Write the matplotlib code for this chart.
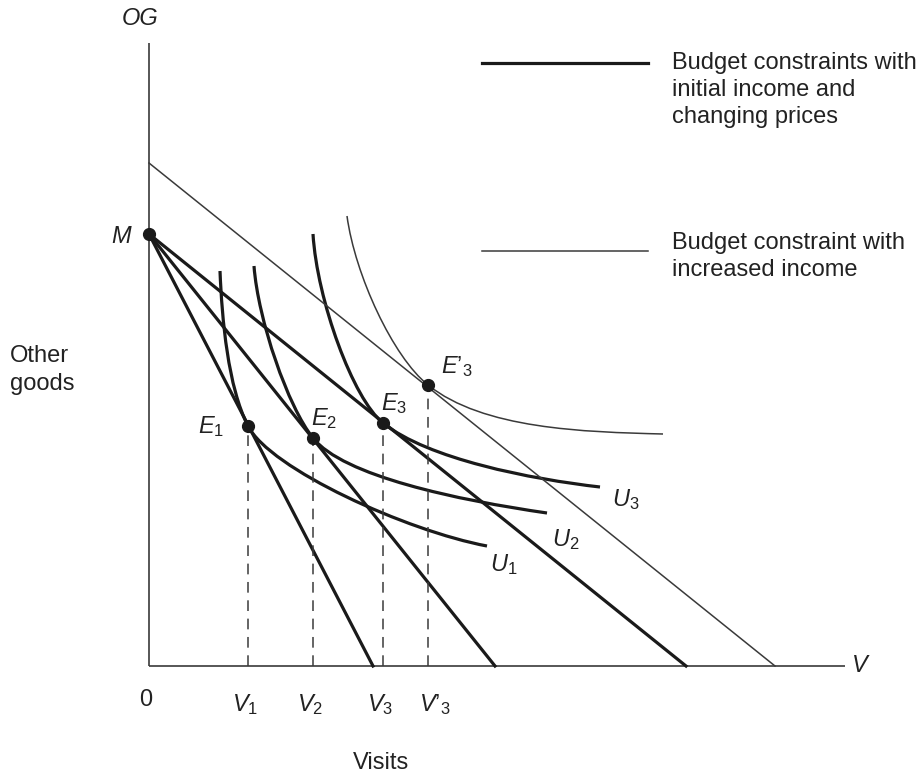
import matplotlib
matplotlib.use("Agg")
import matplotlib.pyplot as plt
from matplotlib.path import Path
from matplotlib.patches import PathPatch

plt.rcParams['font.family'] = ['Liberation Sans', 'DejaVu Sans']
plt.rcParams['mathtext.fontset'] = 'custom'
plt.rcParams['mathtext.it'] = 'Liberation Sans:italic'
plt.rcParams['mathtext.rm'] = 'Liberation Sans'

# ---- data (diagram units: origin at 0, Visits on x, Other goods on y) ----
income_M = 432                      # initial income intercept (M)
budget_x_intercepts = [224, 346, 537]   # thick budget lines, changing prices
raised_income = 503                 # intercept of budget with increased income
raised_x_intercept = 626

eq_labels = [r"$E_\mathrm{1}$", r"$E_\mathrm{2}$", r"$E_\mathrm{3}$", r"$E’_\mathrm{3}$"]
eq_x = [99, 164, 234, 279]
eq_y = [240, 228, 243, 281]

v_labels = [r"$V_\mathrm{1}$", r"$V_\mathrm{2}$", r"$V_\mathrm{3}$", r"$V’_\mathrm{3}$"]

# indifference curves as cubic Bezier nodes: start, c1, c2, tangency, c3, c4, end
U1_x = [71, 73, 79, 99, 121, 258, 338]
U1_y = [395, 346, 279, 240, 197, 135, 120]
U2_x = [105, 109, 139, 164, 194, 308, 398]
U2_y = [400, 346, 259, 228, 190, 166, 153]
U3_x = [164, 168, 204, 234, 279, 381, 451]
U3_y = [432, 366, 267, 243, 207, 187, 179]
U3p_x = [198, 206, 244, 279, 334, 434, 514]
U3p_y = [450, 391, 309, 281, 237, 234, 232]

fig = plt.figure(figsize=(9.24, 7.78), dpi=100)
ax = fig.add_axes([0, 0, 1, 1])
ax.set_xlim(-149, 775)
ax.set_ylim(-112, 666)
ax.axis('off')

ink = '#1a1a1a'
thin = '#3a3a3a'

# axes
ax.plot([0, 0], [0, 623], color=thin, lw=1.2, solid_capstyle='butt')
ax.plot([0, 696], [0, 0], color=thin, lw=1.2, solid_capstyle='butt')

# budget lines
for xi in budget_x_intercepts:
    ax.plot([0, xi], [income_M, 0], color=ink, lw=2.3)
ax.plot([0, raised_x_intercept], [raised_income, 0], color=thin, lw=1.1)

# indifference curves
codes = [Path.MOVETO] + [Path.CURVE4] * 6
for xs, ys, lw, col in [(U1_x, U1_y, 2.3, ink), (U2_x, U2_y, 2.3, ink),
                        (U3_x, U3_y, 2.3, ink), (U3p_x, U3p_y, 1.1, thin)]:
    p = Path(list(zip(xs, ys)), codes)
    ax.add_patch(PathPatch(p, facecolor='none', edgecolor=col, lw=lw))

# dashed drop lines and equilibrium points
for x, y in zip(eq_x, eq_y):
    ax.plot([x, x], [0, y], color=thin, lw=1.1, ls=(0, (7, 5)))
ax.plot(eq_x, eq_y, 'o', color=ink, ms=8.5, zorder=5)
ax.plot([0], [income_M], 'o', color=ink, ms=8.5, zorder=5, clip_on=False)

fs = 17
tc = '#222222'
# equilibrium labels
eq_off = [(-37, -1), (11, 19), (11, 19), (29, 18)]
for t, x, y, (dx, dy) in zip(eq_labels, eq_x, eq_y, eq_off):
    ax.text(x + dx, y + dy, t, fontsize=fs, color=tc, ha='center', va='center')

# V labels under axis
for t, x in zip(v_labels, eq_x):
    ax.text(x + (7 if "’" in t else -3), -39, t, fontsize=fs, color=tc, ha='center', va='center')
ax.text(-3, -34, "0", fontsize=fs, color=tc, ha='center', va='center')

# curve labels
ax.text(355, 101, r"$U_\mathrm{1}$", fontsize=fs, color=tc, ha='center', va='center')
ax.text(417, 126, r"$U_\mathrm{2}$", fontsize=fs, color=tc, ha='center', va='center')
ax.text(477, 166, r"$U_\mathrm{3}$", fontsize=fs, color=tc, ha='center', va='center')

# axis labels
ax.text(-9, 648, "OG", fontsize=fs, color=tc, style='italic', ha='center', va='center')
ax.text(711, 1, "V", fontsize=fs, color=tc, style='italic', ha='center', va='center')
ax.text(-28, 430, "M", fontsize=fs, color=tc, style='italic', ha='center', va='center')
ax.text(-139, 296, "Other\ngoods", fontsize=fs, color=tc, ha='left', va='center', linespacing=1.3)
ax.text(232, -97, "Visits", fontsize=fs, color=tc, ha='center', va='center')

# legend
ax.plot([333, 499], [603, 603], color=ink, lw=2.3)
ax.text(523, 614, "Budget constraints with\ninitial income and\nchanging prices",
        fontsize=fs, color=tc, ha='left', va='top', linespacing=1.3)
ax.plot([333, 499], [415, 415], color=thin, lw=1.1)
ax.text(523, 434, "Budget constraint with\nincreased income",
        fontsize=fs, color=tc, ha='left', va='top', linespacing=1.3)

fig.savefig("out.png", dpi=100, facecolor='white')
